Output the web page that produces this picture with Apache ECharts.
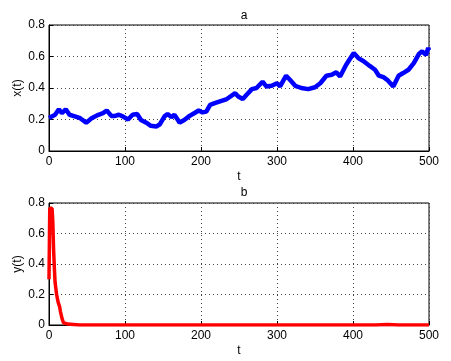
<!DOCTYPE html>
<html>
<head>
<meta charset="utf-8">
<script src="https://cdn.jsdelivr.net/npm/echarts@6/dist/echarts.min.js"></script>
<style>
  html, body { margin: 0; padding: 0; background: #fff; }
  #chart { width: 451px; height: 361px; }
</style>
</head>
<body>
<div id="chart"></div>
<script>
// panel a: x(t)
const tA = [0, 8, 13, 17, 22, 27, 34, 41, 49, 56, 65, 71, 76, 82, 87, 92, 97, 104, 110, 116,
  121, 128, 134, 141, 146, 152, 156, 161, 165, 172, 178, 185, 191, 197, 202, 207, 212, 218, 224, 234,
  245, 249, 255, 260, 267, 273, 281, 286, 293, 300, 304, 312, 317, 324, 332, 341, 350, 357, 365, 372,
  378, 383, 391, 401, 407, 414, 422, 429, 434, 440, 445, 453, 460, 466, 473, 480, 487, 491, 496, 499, 500];
const xA = [0.21, 0.23, 0.265, 0.24, 0.265, 0.23, 0.22, 0.208, 0.18, 0.208, 0.23, 0.24, 0.257, 0.223, 0.223, 0.23, 0.22, 0.2, 0.23, 0.235,
  0.197, 0.18, 0.16, 0.155, 0.17, 0.22, 0.235, 0.215, 0.23, 0.18, 0.197, 0.223, 0.24, 0.257, 0.245, 0.25, 0.293, 0.304, 0.314, 0.33,
  0.367, 0.346, 0.33, 0.357, 0.393, 0.4, 0.44, 0.41, 0.414, 0.43, 0.41, 0.478, 0.452, 0.414, 0.4, 0.393, 0.405, 0.43, 0.478, 0.484,
  0.5, 0.473, 0.548, 0.622, 0.59, 0.57, 0.54, 0.516, 0.478, 0.469, 0.452, 0.41, 0.478, 0.495, 0.516, 0.558, 0.618, 0.633, 0.61, 0.654, 0.64];

// panel b: y(t)
const tB = [0, 1, 4, 5, 6, 7, 8, 10, 12, 14, 15, 17, 19, 21, 25, 32, 40, 430, 445, 460, 500];
const yB = [0.3, 0.765, 0.765, 0.68, 0.5, 0.38, 0.28, 0.2, 0.15, 0.12, 0.09, 0.045, 0.015, 0.008, 0.006, 0.004, 0, 0, 0.003, 0, 0];

const xTicks = { min: 0, max: 500, interval: 100 };
const yTicks = { min: 0, max: 0.8, interval: 0.2 };

const font = 'Liberation Sans, Arial, sans-serif';
const pair = (ts, vs) => ts.map((t, i) => [t, vs[i]]);

const gridLine = { show: true, lineStyle: { color: '#444', type: [1, 3], width: 1 } };
const label = { color: '#000', fontSize: 12, fontFamily: font };

function xAxis(idx) {
  return {
    type: 'value', gridIndex: idx, ...xTicks,
    name: 't', nameLocation: 'middle', nameGap: 20, nameMoveOverlap: false,
    nameTextStyle: { color: '#000', fontSize: 12, fontFamily: font },
    axisLine: { show: true, onZero: false, lineStyle: { color: '#000', width: 1 } },
    axisTick: { show: true, inside: true, length: 4, lineStyle: { color: '#000' } },
    axisLabel: { ...label, margin: 5 },
    splitLine: gridLine
  };
}

function yAxis(idx, name) {
  return {
    type: 'value', gridIndex: idx, ...yTicks,
    name: name, nameLocation: 'middle', nameGap: 25, nameMoveOverlap: false,
    nameTextStyle: { color: '#000', fontSize: 12, fontFamily: font },
    axisLine: { show: true, lineStyle: { color: '#000', width: 1 } },
    axisTick: { show: true, inside: true, length: 4, lineStyle: { color: '#000' } },
    axisLabel: { ...label, margin: 4, formatter: v => String(+v.toFixed(1)) },
    splitLine: gridLine
  };
}

const chart = echarts.init(document.getElementById('chart'), null, { renderer: 'canvas' });
chart.setOption({
  backgroundColor: '#fff',
  animation: false,
  title: [
    { text: 'a', left: 239, top: 5, textAlign: 'center', textStyle: { fontSize: 12, fontWeight: 'normal', color: '#000', fontFamily: font } },
    { text: 'b', left: 239, top: 182, textAlign: 'center', textStyle: { fontSize: 12, fontWeight: 'normal', color: '#000', fontFamily: font } }
  ],
  grid: [
    { left: 49, right: 22, top: 25, height: 126, show: true, borderColor: '#000', borderWidth: 1, backgroundColor: 'transparent' },
    { left: 49, right: 22, top: 203, height: 122, show: true, borderColor: '#000', borderWidth: 1, backgroundColor: 'transparent' }
  ],
  xAxis: [xAxis(0), xAxis(1)],
  yAxis: [yAxis(0, 'x(t)'), yAxis(1, 'y(t)')],
  series: [
    {
      type: 'line', xAxisIndex: 0, yAxisIndex: 0, data: pair(tA, xA),
      showSymbol: false, lineStyle: { color: '#0000ff', width: 4.5 }, itemStyle: { color: '#0000ff' }
    },
    {
      type: 'line', xAxisIndex: 1, yAxisIndex: 1, data: pair(tB, yB),
      showSymbol: false, lineStyle: { color: '#ff0000', width: 3.5 }, itemStyle: { color: '#ff0000' }
    }
  ]
});
</script>
</body>
</html>
